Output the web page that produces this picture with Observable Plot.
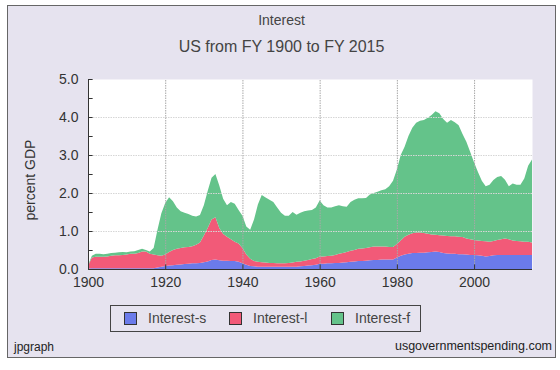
<!DOCTYPE html>
<html><head><meta charset="utf-8">
<script src="https://cdn.jsdelivr.net/npm/d3@7"></script>
<script src="https://cdn.jsdelivr.net/npm/@observablehq/plot@0.6"></script>
<style>
body{margin:0;background:#fff;}
#page{position:relative;width:560px;height:370px;overflow:hidden;font-family:"Liberation Sans",Arial,sans-serif;color:#333;}
#frame{position:absolute;left:7px;top:5px;width:547px;height:351px;background:#e6e3ef;border:1.5px solid #666;}
.t{position:absolute;white-space:nowrap;}
#chart{position:absolute;left:0;top:70px;}
#legend{position:absolute;left:110px;top:305px;width:309px;height:25px;border:1px solid #444;}
.sw{position:absolute;top:6px;width:11px;height:11px;border:1px solid #333;}
.lt{position:absolute;top:4px;font-size:14px;color:#444;}
</style></head>
<body>
<div id="page">
  <div id="frame"></div>
  <div class="t" style="left:0;width:563px;top:12px;text-align:center;font-size:14px;color:#444;">Interest</div>
  <div class="t" style="left:0;width:563px;top:38px;text-align:center;font-size:16px;color:#444;">US from FY 1900 to FY 2015</div>
  <div class="t" style="left:-12px;top:172px;width:84px;text-align:center;font-size:14px;transform:rotate(-90deg);color:#333;">percent GDP</div>
  <div id="chart"></div>
  <div id="legend"></div>
  <div class="t" style="left:14px;top:340px;font-size:12px;color:#222;">jpgraph</div>
  <div class="t" style="right:8px;top:339px;font-size:12.5px;color:#222;">usgovernmentspending.com</div>
</div>
<script>
const years = d3.range(1900, 2016);
const seriesNames = ["Interest-s", "Interest-l", "Interest-f"];
const seriesColors = ["#6b7bea", "#f25a78", "#64c38a"];
const yTicks = [0, 1, 2, 3, 4, 5];
const yMinorTicks = [0.5, 1, 1.5, 2, 2.5, 3, 3.5, 4, 4.5, 5];
const xTicks = [1900, 1920, 1940, 1960, 1980, 2000];

const interestS = [
0.01,0.02,0.02,0.02,0.02,0.02,0.02,0.02,0.02,0.02,
0.02,0.02,0.02,0.02,0.02,0.02,0.02,0.02,0.04,0.06,
0.08,0.09,0.10,0.11,0.12,0.13,0.14,0.15,0.15,0.16,
0.18,0.20,0.24,0.25,0.23,0.22,0.22,0.21,0.21,0.19,
0.15,0.11,0.08,0.07,0.06,0.06,0.06,0.06,0.06,0.06,
0.06,0.06,0.06,0.06,0.06,0.07,0.08,0.09,0.10,0.11,
0.14,0.14,0.15,0.15,0.16,0.16,0.17,0.18,0.19,0.20,
0.21,0.21,0.22,0.23,0.24,0.24,0.25,0.25,0.25,0.25,
0.30,0.35,0.38,0.40,0.42,0.42,0.43,0.43,0.44,0.45,
0.46,0.45,0.42,0.41,0.40,0.40,0.39,0.39,0.38,0.37,
0.37,0.36,0.35,0.33,0.34,0.36,0.37,0.37,0.37,0.37,
0.37,0.37,0.37,0.37,0.37,0.37];

const interestL = [
0.07,0.28,0.30,0.30,0.30,0.31,0.33,0.34,0.34,0.35,
0.36,0.38,0.38,0.40,0.44,0.44,0.38,0.36,0.32,0.29,
0.30,0.36,0.40,0.42,0.43,0.44,0.44,0.45,0.49,0.54,
0.70,0.88,1.06,1.11,0.85,0.70,0.63,0.57,0.51,0.48,
0.40,0.27,0.19,0.14,0.13,0.12,0.11,0.10,0.10,0.09,
0.09,0.09,0.10,0.11,0.13,0.13,0.14,0.15,0.16,0.17,
0.19,0.19,0.19,0.20,0.21,0.24,0.25,0.27,0.29,0.30,
0.32,0.33,0.33,0.34,0.35,0.35,0.34,0.34,0.33,0.33,
0.36,0.40,0.47,0.50,0.52,0.54,0.53,0.52,0.49,0.46,
0.44,0.44,0.46,0.46,0.46,0.46,0.46,0.45,0.42,0.41,
0.39,0.39,0.39,0.40,0.38,0.38,0.39,0.41,0.43,0.41,
0.38,0.37,0.36,0.35,0.35,0.33];

const interestF = [
0.02,0.05,0.08,0.08,0.07,0.07,0.07,0.07,0.08,0.08,
0.06,0.06,0.07,0.08,0.07,0.04,0.06,0.17,0.67,1.12,
1.36,1.44,1.28,1.09,0.97,0.91,0.87,0.80,0.74,0.72,
0.80,0.97,1.10,1.14,1.12,0.93,0.83,0.98,1.00,0.88,
0.85,0.74,0.76,1.09,1.51,1.77,1.71,1.66,1.60,1.47,
1.33,1.25,1.24,1.33,1.24,1.28,1.30,1.30,1.29,1.34,
1.47,1.35,1.28,1.27,1.28,1.28,1.23,1.19,1.28,1.32,
1.33,1.32,1.32,1.39,1.41,1.44,1.48,1.51,1.60,1.74,
1.96,2.25,2.37,2.60,2.78,2.89,2.94,2.97,3.05,3.14,
3.25,3.21,3.07,2.98,3.06,3.00,2.93,2.71,2.55,2.30,
2.04,1.80,1.58,1.45,1.50,1.60,1.66,1.67,1.55,1.40,
1.50,1.48,1.49,1.66,2.00,2.18];

const seriesValues = [interestS, interestL, interestF];
const data = [];
seriesNames.forEach((name, i) => {
  years.forEach((yr, j) => data.push({year: yr, value: seriesValues[i][j], series: name}));
});

const chart = Plot.plot({
  width: 560,
  height: 225,
  marginTop: 9,
  marginBottom: 26,
  marginLeft: 88,
  marginRight: 28,
  style: {background: "transparent", fontFamily: "'Liberation Sans', Arial, sans-serif", fontSize: "14px", color: "#333"},
  x: {domain: [1900, 2015], ticks: xTicks, tickFormat: d => String(d), tickSize: 0, tickPadding: 8, label: null},
  y: {domain: [0, 5], ticks: yTicks, tickFormat: d3.format(".1f"), tickSize: 0, tickPadding: 10, label: null},
  color: {domain: seriesNames, range: seriesColors},
  marks: [
    Plot.frame({fill: "white", stroke: "none"}),
    Plot.areaY(data, {x: "year", y: "value", fill: "series", order: seriesNames}),
    Plot.ruleY([1, 2, 3, 4], {stroke: "#d6d6d6", strokeDasharray: "1.5,1"}),
    Plot.ruleX(xTicks.slice(1), {y1: 0, y2: 5, stroke: "#a8a8a8", strokeDasharray: "1.5,1"}),
    Plot.ruleY(yMinorTicks, {x1: 1900, x2: 1901.2, stroke: "#333"}),
    Plot.ruleX(xTicks, {y1: 0, y2: 0.12, stroke: "#333"}),
    Plot.ruleX([1900], {y1: 0, y2: 5, stroke: "#333"}),
    Plot.ruleY([0], {stroke: "#333"})
  ]
});
document.getElementById("chart").appendChild(chart);

const legend = document.getElementById("legend");
const swX = [13, 118, 220];
seriesNames.forEach((name, i) => {
  const sw = document.createElement("div");
  sw.className = "sw";
  sw.style.left = swX[i] + "px";
  sw.style.background = seriesColors[i];
  legend.appendChild(sw);
  const t = document.createElement("div");
  t.className = "lt";
  t.style.left = (swX[i] + 24) + "px";
  t.textContent = name;
  legend.appendChild(t);
});
</script>
</body></html>
